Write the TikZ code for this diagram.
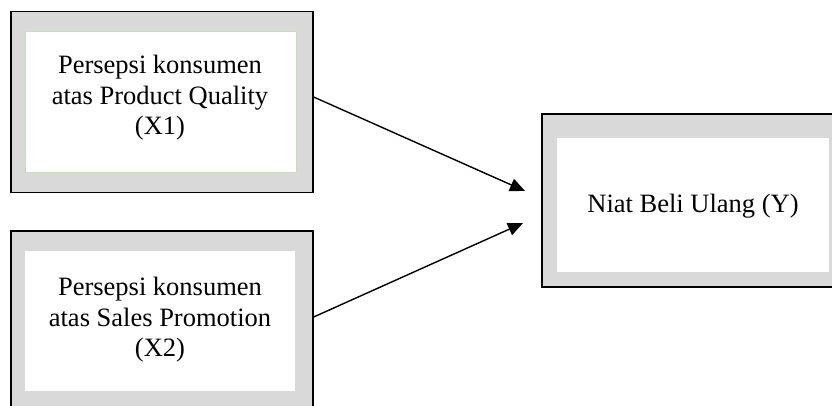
\documentclass[tikz,border=0pt]{standalone}
\usepackage{fontspec}
\setmainfont{Liberation Serif}
\usetikzlibrary{arrows.meta}
\definecolor{boxgray}{HTML}{D9D9D9}
\definecolor{lightgreen}{HTML}{C5E0B4}
\begin{document}
\begin{tikzpicture}[x=1pt,y=-1pt,
  outerbox/.style={draw=black,line width=1.3pt,fill=boxgray,rectangle,inner sep=0pt},
  innerbox/.style={fill=white,rectangle,inner sep=0pt},
  label/.style={align=center,font=\fontsize{26.5}{30.5}\selectfont},
  arr/.style={line width=1.4pt,-{Triangle[length=15pt,width=13pt]}}]
\useasboundingbox (0,0) rectangle (832,405);
\clip (0,0) rectangle (832,405);
% box 1
\node[outerbox,minimum width=302pt,minimum height=181pt] (b1) at (162,102) {};
\node[innerbox,draw=lightgreen,line width=0.8pt,minimum width=271pt,minimum height=141pt] (i1) at (160.5,101.5) {};
\node[label] (t1) at (160,98) {Persepsi konsumen\\atas Product Quality\\(X1)};
% box 2
\node[outerbox,minimum width=302pt,minimum height=180pt] (b2) at (162,321) {};
\node[innerbox,minimum width=270pt,minimum height=140pt] (i2) at (160,321) {};
\node[label] (t2) at (160,320) {Persepsi konsumen\\atas Sales Promotion\\(X2)};
% box 3
\node[outerbox,minimum width=310pt,minimum height=173pt] (b3) at (697,200.5) {};
\node[innerbox,minimum width=272pt,minimum height=134pt] (i3) at (693,205) {};
\node[label] (t3) at (693,206) {Niat Beli Ulang (Y)};
% arrows
\coordinate (e1) at (525,191);
\coordinate (e2) at (523,223);
\draw[arr] ([yshift=5pt]b1.east) -- (e1);
\draw[arr] ([yshift=4pt]b2.east) -- (e2);
\end{tikzpicture}
\end{document}
